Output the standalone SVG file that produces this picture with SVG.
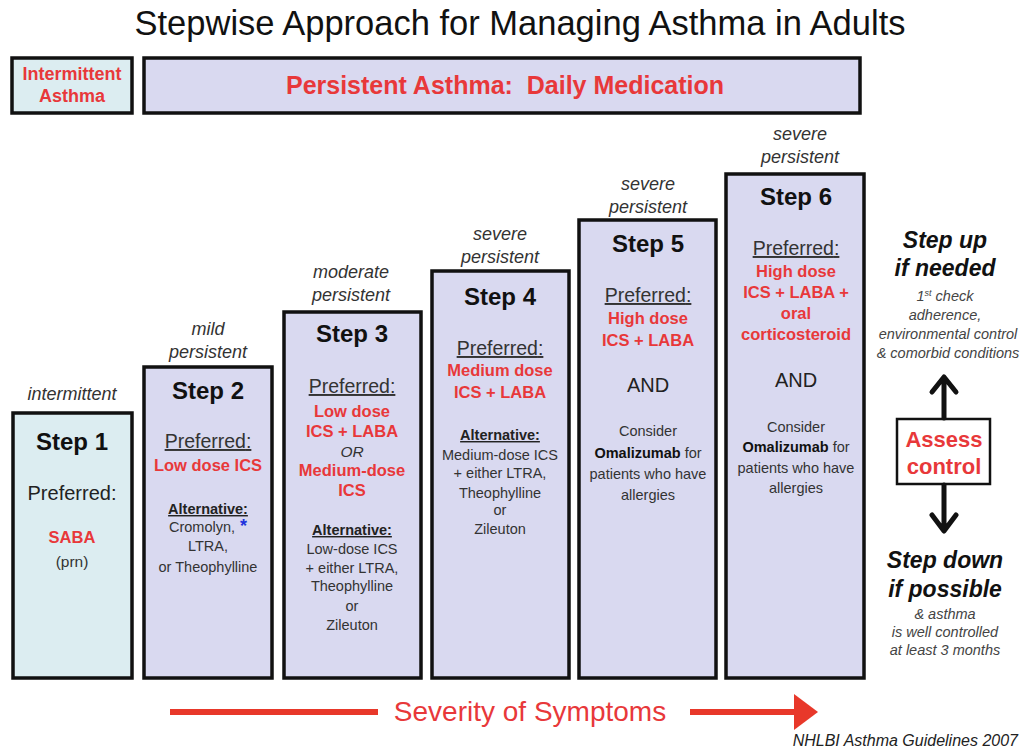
<svg xmlns="http://www.w3.org/2000/svg" width="1030" height="751" viewBox="0 0 1030 751">
<style>
text{font-family:"Liberation Sans",Arial,sans-serif;text-anchor:middle;fill:#222}
.box{stroke:#111;stroke-width:3.5}
.lav{fill:#d9d9f0}
.cyan{fill:#dcedf1}
.sev{font-style:italic;font-size:18px;fill:#333}
.step{font-weight:bold;font-size:24px;fill:#111}
.pref{font-size:19.5px;fill:#333;text-decoration:underline}
.red{fill:#e8383a;font-weight:bold;font-size:16.5px}
.alt{font-weight:bold;font-size:14.5px;text-decoration:underline;fill:#222}
.sm{font-size:14.5px;fill:#333}
.and{font-size:20px;fill:#222}
.rt{font-weight:bold;font-style:italic;font-size:23px;fill:#111}
.note{font-style:italic;font-size:14.5px;fill:#444}
</style>
<defs>
<marker id="redhead" markerWidth="6" markerHeight="6" refX="1" refY="3" orient="auto" markerUnits="strokeWidth">
<path d="M0,0 L4,3 L0,6 z" fill="#e8382a"/>
</marker>
</defs>
<text x="520" y="35" style="font-size:34.5px;fill:#111">Stepwise Approach for Managing Asthma in Adults</text>
<g id="intermittent-header">
<rect class="box cyan" x="12" y="58" width="120" height="55"/>
<text x="72" y="80" class="red" style="font-size:18px">Intermittent</text>
<text x="72" y="102" class="red" style="font-size:18px">Asthma</text>
</g>
<g id="persistent-header">
<rect class="box lav" x="144" y="58" width="716" height="55"/>
<text x="505" y="94" class="red" style="font-size:25px" xml:space="preserve">Persistent Asthma:  Daily Medication</text>
</g>
<g id="step1">
<text x="72" y="400" class="sev">intermittent</text>
<rect class="box cyan" x="13" y="413" width="119" height="265"/>
<text x="72" y="450" class="step">Step 1</text>
<text x="72" y="500" class="and">Preferred:</text>
<text x="72" y="543" class="red">SABA</text>
<text x="72" y="567" class="sm" style="font-size:15.5px">(prn)</text>
</g>
<g id="step2">
<text x="208" y="335" class="sev">mild</text>
<text x="208" y="358" class="sev">persistent</text>
<rect class="box lav" x="144" y="367" width="128" height="311"/>
<text x="208" y="399" class="step">Step 2</text>
<text x="208" y="448" class="pref">Preferred<tspan style="text-decoration:none">:</tspan></text>
<text x="208" y="471" class="red">Low dose ICS</text>
<text x="208" y="514" class="alt">Alternative:</text>
<text x="208" y="532" class="sm">Cromolyn,<tspan style="fill:#2233dd;font-weight:bold;font-size:18px"> *</tspan></text>
<text x="208" y="551" class="sm">LTRA,</text>
<text x="208" y="572" class="sm">or Theophylline</text>
</g>
<g id="step3">
<text x="351" y="278" class="sev">moderate</text>
<text x="351" y="301" class="sev">persistent</text>
<rect class="box lav" x="284" y="312" width="137" height="366"/>
<text x="352" y="342" class="step">Step 3</text>
<text x="352" y="393" class="pref">Preferred<tspan style="text-decoration:none">:</tspan></text>
<text x="352" y="417" class="red">Low dose</text>
<text x="352" y="437" class="red">ICS + LABA</text>
<text x="352" y="457" class="sm" style="font-style:italic;font-size:15.5px">OR</text>
<text x="352" y="476" class="red">Medium-dose</text>
<text x="352" y="496" class="red">ICS</text>
<text x="352" y="535" class="alt">Alternative:</text>
<text x="352" y="554" class="sm">Low-dose ICS</text>
<text x="352" y="573" class="sm">+ either LTRA,</text>
<text x="352" y="591" class="sm">Theophylline</text>
<text x="352" y="611" class="sm">or</text>
<text x="352" y="630" class="sm">Zileuton</text>
</g>
<g id="step4">
<text x="500" y="240" class="sev">severe</text>
<text x="500" y="263" class="sev">persistent</text>
<rect class="box lav" x="432" y="271" width="137" height="407"/>
<text x="500" y="305" class="step">Step 4</text>
<text x="500" y="355" class="pref">Preferred<tspan style="text-decoration:none">:</tspan></text>
<text x="500" y="376" class="red">Medium dose</text>
<text x="500" y="398" class="red">ICS + LABA</text>
<text x="500" y="440" class="alt">Alternative:</text>
<text x="500" y="460" class="sm">Medium-dose ICS</text>
<text x="500" y="478" class="sm">+ either LTRA,</text>
<text x="500" y="498" class="sm">Theophylline</text>
<text x="500" y="515" class="sm">or</text>
<text x="500" y="534" class="sm">Zileuton</text>
</g>
<g id="step5">
<text x="648" y="190" class="sev">severe</text>
<text x="648" y="213" class="sev">persistent</text>
<rect class="box lav" x="579" y="220" width="137" height="458"/>
<text x="648" y="252" class="step">Step 5</text>
<text x="648" y="302" class="pref">Preferred<tspan style="text-decoration:none">:</tspan></text>
<text x="648" y="324" class="red">High dose</text>
<text x="648" y="346" class="red">ICS + LABA</text>
<text x="648" y="392" class="and">AND</text>
<text x="648" y="436" class="sm">Consider</text>
<text x="648" y="458" class="sm"><tspan style="font-weight:bold;fill:#111">Omalizumab</tspan> for</text>
<text x="648" y="479" class="sm">patients who have</text>
<text x="648" y="500" class="sm">allergies</text>
</g>
<g id="step6">
<text x="800" y="140" class="sev">severe</text>
<text x="800" y="163" class="sev">persistent</text>
<rect class="box lav" x="726" y="174" width="138" height="504"/>
<text x="796" y="205" class="step">Step 6</text>
<text x="796" y="255" class="pref">Preferred<tspan style="text-decoration:none">:</tspan></text>
<text x="796" y="277" class="red">High dose</text>
<text x="796" y="298" class="red">ICS + LABA +</text>
<text x="796" y="319" class="red">oral</text>
<text x="796" y="340" class="red">corticosteroid</text>
<text x="796" y="387" class="and">AND</text>
<text x="796" y="432" class="sm">Consider</text>
<text x="796" y="452" class="sm"><tspan style="font-weight:bold;fill:#111">Omalizumab</tspan> for</text>
<text x="796" y="473" class="sm">patients who have</text>
<text x="796" y="493" class="sm">allergies</text>
</g>
<g id="step-up">
<text x="945" y="248" class="rt">Step up</text>
<text x="945" y="276" class="rt">if needed</text>
<text x="945" y="301" class="note">1<tspan dy="-5" style="font-size:9px">st</tspan><tspan dy="5"> check</tspan></text>
<text x="945" y="320" class="note">adherence,</text>
<text x="948" y="339" class="note">environmental control</text>
<text x="948" y="358" class="note">&amp; comorbid conditions</text>
</g>
<g id="assess-control">
<rect x="897" y="419" width="93" height="65" fill="#fff" stroke="#111" stroke-width="2.5"/>
<text x="944" y="447" class="red" style="font-size:22px">Assess</text>
<text x="944" y="474" class="red" style="font-size:22px">control</text>
</g>
<g id="step-down">
<text x="945" y="568" class="rt">Step down</text>
<text x="945" y="597" class="rt">if possible</text>
<text x="945" y="619" class="note">&amp; asthma</text>
<text x="945" y="637" class="note">is well controlled</text>
<text x="945" y="655" class="note">at least 3 months</text>
</g>
<g id="connectors" fill="none" stroke-linecap="round" stroke-linejoin="round">
<path d="M944,418 V378 M932,392 L944,377 L956,392" stroke="#111" stroke-width="5"/>
<path d="M944,485 V530 M932,515 L944,531 L956,515" stroke="#111" stroke-width="5"/>
<path d="M170,712 H378" stroke="#e8382a" stroke-width="6" stroke-linecap="butt"/>
<path d="M690,712 H800" stroke="#e8382a" stroke-width="6" stroke-linecap="butt" marker-end="url(#redhead)"/>
</g>
<text x="530" y="721" style="font-size:28px;fill:#e8383a">Severity of Symptoms</text>
<text x="1018" y="746" style="text-anchor:end;font-style:italic;font-size:16px;fill:#222">NHLBI Asthma Guidelines 2007</text>
</svg>
